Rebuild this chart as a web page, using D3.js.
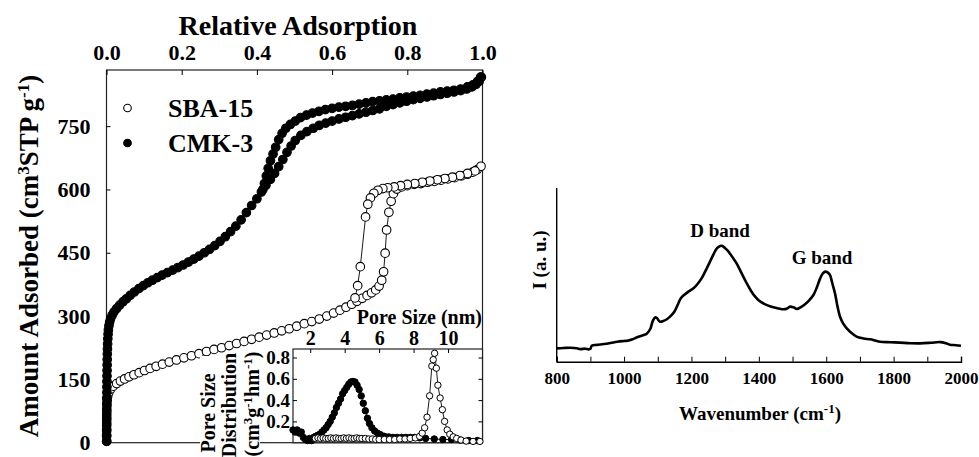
<!DOCTYPE html>
<html>
<head>
<meta charset="utf-8">
<script src="https://cdn.jsdelivr.net/npm/d3@7"></script>
<style>
  body { margin: 0; background: #fff; }
  svg { display: block; }
</style>
</head>
<body>
<script>
// ---- isotherms: [relative pressure, cm3 STP/g] ----
const sbaAds = [[0.0004,4],[0.0004,18],[0.0005,32],[0.0006,46],[0.0007,60],[0.0009,74],[0.0012,88],[0.0018,100],[0.003,110],[0.006,119],[0.011,127],[0.018,134],[0.027,140],[0.037,146],[0.048,151],[0.06,156],[0.073,161],[0.087,166],[0.101,171],[0.116,176],[0.132,181],[0.149,186],[0.167,191],[0.186,196],[0.206,201],[0.226,206],[0.246,211],[0.266,216],[0.286,221],[0.306,225],[0.326,230],[0.346,235],[0.366,240],[0.386,245],[0.406,250],[0.426,255],[0.446,260],[0.466,265],[0.486,270],[0.506,276],[0.526,282],[0.546,287],[0.566,293],[0.586,300],[0.604,307],[0.621,314],[0.637,321],[0.652,328],[0.666,335],[0.68,342],[0.693,349],[0.705,355],[0.716,362],[0.725,371],[0.732,385],[0.737,405],[0.741,449],[0.745,504],[0.751,546],[0.757,572],[0.763,590],[0.772,601],[0.785,606],[0.8,609],[0.818,612],[0.836,614],[0.854,617],[0.872,619],[0.89,622],[0.908,625],[0.926,628],[0.944,632],[0.96,636],[0.974,641],[0.986,647],[0.996,655]];
const sbaDes = [[0.98,644],[0.96,638],[0.94,633],[0.92,629],[0.9,626],[0.88,623],[0.86,620],[0.84,617],[0.82,614],[0.8,612],[0.782,609],[0.765,606],[0.748,604],[0.735,602],[0.722,598],[0.711,591],[0.702,580],[0.695,565],[0.689,535],[0.675,417],[0.668,372],[0.661,343]];
const cmkAds = [[0.0004,3],[0.0004,15],[0.0005,28],[0.0005,41],[0.0006,54],[0.0006,67],[0.0007,80],[0.0008,93],[0.0009,106],[0.001,119],[0.0011,132],[0.0012,145],[0.0013,158],[0.0015,171],[0.0017,184],[0.0019,197],[0.0022,210],[0.0025,222],[0.003,234],[0.0035,246],[0.0042,257],[0.005,267],[0.0065,277],[0.0085,286],[0.011,294],[0.015,302],[0.02,310],[0.027,318],[0.035,326],[0.044,334],[0.053,341],[0.063,349],[0.074,357],[0.086,365],[0.098,372],[0.11,379],[0.122,385],[0.135,391],[0.148,397],[0.162,403],[0.176,409],[0.19,415],[0.204,421],[0.218,428],[0.232,435],[0.246,442],[0.26,450],[0.274,458],[0.288,467],[0.302,477],[0.316,488],[0.33,500],[0.344,513],[0.358,528],[0.372,545],[0.386,562],[0.4,578],[0.412,594],[0.424,610],[0.436,624],[0.447,638],[0.458,654],[0.469,671],[0.48,688],[0.491,703],[0.502,716],[0.517,728],[0.533,737],[0.55,745],[0.566,752],[0.583,757],[0.6,762],[0.618,767],[0.636,771],[0.654,775],[0.672,779],[0.69,783],[0.708,787],[0.726,791],[0.744,797],[0.762,801],[0.78,805],[0.798,809],[0.816,813],[0.834,816],[0.852,819],[0.87,822],[0.888,825],[0.906,828],[0.924,831],[0.942,834],[0.958,838],[0.972,843],[0.983,849],[0.991,856],[0.997,866]];
const cmkDes = [[0.995,866],[0.987,856],[0.975,848],[0.96,843],[0.942,838],[0.924,835],[0.906,833],[0.888,831],[0.87,828],[0.852,826],[0.834,823],[0.816,821],[0.798,819],[0.78,817],[0.762,814],[0.744,812],[0.726,810],[0.708,808],[0.69,805],[0.672,802],[0.654,799],[0.636,797],[0.618,795],[0.6,792],[0.582,789],[0.565,785],[0.548,781],[0.532,776],[0.516,770],[0.502,762],[0.489,754],[0.477,745],[0.467,733],[0.458,718],[0.45,700],[0.443,684],[0.436,668],[0.43,650],[0.425,632],[0.42,614],[0.416,600]];

// ---- pore size distribution inset: [nm, value] ----
const cmkPsd = [[1.0,0.12],[1.12,0.1],[1.24,0.12],[1.36,0.09],[1.48,0.1],[1.6,0.05],[1.72,0.03],[1.84,0.02],[1.96,0.04],[2.08,0.02],[2.2,0.05],[2.32,0.06],[2.44,0.07],[2.56,0.08],[2.68,0.1],[2.8,0.12],[2.92,0.14],[3.04,0.17],[3.16,0.2],[3.28,0.24],[3.4,0.28],[3.52,0.33],[3.64,0.37],[3.76,0.41],[3.88,0.46],[4.0,0.49],[4.12,0.52],[4.24,0.55],[4.36,0.57],[4.48,0.575],[4.6,0.57],[4.72,0.54],[4.84,0.5],[4.96,0.44],[5.08,0.37],[5.2,0.3],[5.32,0.23],[5.44,0.18],[5.58,0.14],[5.74,0.11],[5.9,0.09],[6.08,0.075],[6.3,0.06],[6.55,0.055],[6.8,0.05],[7.05,0.05],[7.3,0.05],[7.55,0.05],[7.8,0.05],[8.05,0.05],[8.35,0.045],[8.7,0.04],[9.2,0.035],[9.7,0.03],[10.2,0.03],[10.7,0.025],[11.2,0.02],[11.7,0.02]];
const sbaPsd = [[2.3,0.04],[2.45,0.045],[2.6,0.04],[2.75,0.045],[2.9,0.04],[3.05,0.04],[3.2,0.045],[3.35,0.04],[3.5,0.045],[3.65,0.04],[3.8,0.04],[3.95,0.045],[4.1,0.04],[4.25,0.045],[4.4,0.04],[4.55,0.04],[4.7,0.045],[4.85,0.04],[5.0,0.04],[5.2,0.04],[5.4,0.035],[5.6,0.035],[5.8,0.03],[6.0,0.03],[6.3,0.03],[6.6,0.03],[6.9,0.03],[7.2,0.035],[7.5,0.035],[7.8,0.04],[8.1,0.045],[8.35,0.06],[8.5,0.09],[8.64,0.14],[8.78,0.24],[8.93,0.44],[9.06,0.72],[9.14,0.78],[9.22,0.84],[9.32,0.7],[9.41,0.54],[9.54,0.42],[9.67,0.31],[9.8,0.2],[9.95,0.12],[10.1,0.08],[10.3,0.055],[10.5,0.04],[10.75,0.025],[11.05,0.015],[11.45,0.012],[11.85,0.012]];

// ---- Raman spectrum: [wavenumber, intensity a.u.] ----
const raman = [[800,9.5],[820,9.8],[840,10],[860,9.6],[870,9],[885,9.3],[895,8.8],[900,9.2],[904,11.4],[920,12],[940,12.6],[960,13.4],[980,14.3],[1000,14.8],[1010,15],[1025,16],[1040,17.6],[1055,18.8],[1068,20.2],[1078,23.5],[1085,29],[1092,31.6],[1098,31],[1106,28.6],[1116,29],[1128,30.5],[1140,33],[1150,36],[1160,41],[1168,45.2],[1180,48],[1192,50.2],[1206,52.4],[1218,55.5],[1230,59.5],[1242,65],[1255,71.4],[1266,77],[1276,81],[1285,82.6],[1292,82.6],[1300,81],[1310,78.6],[1322,74.5],[1334,70.2],[1349,63],[1364,56],[1377,50.5],[1389,46.4],[1401,43.5],[1413,41.7],[1428,40],[1443,38.8],[1458,38],[1473,37.4],[1484,38],[1493,39.3],[1503,38.8],[1513,37.6],[1525,39],[1537,41],[1550,44],[1562,47.6],[1572,53],[1582,59.5],[1590,63],[1597,64.3],[1604,63.8],[1611,61.9],[1618,56],[1626,48.8],[1633,40],[1641,32.1],[1651,27],[1661,23.8],[1675,20.5],[1690,17.9],[1710,16.6],[1730,16],[1745,15.2],[1760,14.3],[1790,13.9],[1819,13.6],[1850,13.2],[1878,13.1],[1910,13.5],[1938,14],[1955,13.2],[1967,12.1],[1985,11.8],[2000,11.4]];

const pTicks = [0, 0.2, 0.4, 0.6, 0.8, 1.0];
const vTicks = [0, 150, 300, 450, 600, 750];
const dTicks = [2, 4, 6, 8, 10];
const fTicks = [0.2, 0.4, 0.6, 0.8];
const wTicks = [800, 1000, 1200, 1400, 1600, 1800, 2000];

const font = "Liberation Serif";
const width = 979, height = 457;
const svg = d3.select("body").append("svg")
    .attr("width", width).attr("height", height)
    .attr("viewBox", [0, 0, width, height])
    .attr("font-family", font)
    .attr("font-weight", "bold");

// axis text: replace d3's sans-serif default with the serif face
const axisText = size => g => g
    .attr("font-family", font)
    .call(g => g.selectAll("text").attr("font-size", size).attr("fill", "#000"));

// ===== isotherm panel =====
const x = d3.scaleLinear().domain([0, 1]).range([106.5, 482.5]);
const y = d3.scaleLinear().domain([0, 883]).range([442.7, 70]);

svg.append("rect")
    .attr("x", x(0)).attr("y", y(883))
    .attr("width", x(1) - x(0)).attr("height", y(0) - y(883))
    .attr("fill", "none").attr("stroke", "#222").attr("stroke-width", 1.2);

svg.append("g")
    .attr("transform", `translate(0,${y(883)})`)
    .call(d3.axisTop(x).tickValues(pTicks).tickSize(-5).tickPadding(10).tickFormat(d3.format(".1f")))
    .call(g => g.select(".domain").remove())
    .call(axisText(22));

svg.append("g")
    .attr("transform", `translate(${x(0)},0)`)
    .call(d3.axisLeft(y).tickValues(vTicks).tickSize(-4).tickPadding(16))
    .call(g => g.select(".domain").remove())
    .call(axisText(22));

svg.append("text")
    .attr("x", 298).attr("y", 35)
    .attr("text-anchor", "middle").attr("font-size", 28)
    .text("Relative Adsorption");

const yt = svg.append("text")
    .attr("transform", "translate(38,256) rotate(-90)")
    .attr("text-anchor", "middle").attr("font-size", 27);
yt.append("tspan").text("Amount Adsorbed (cm");
yt.append("tspan").attr("font-size", 17).attr("baseline-shift", "super").text("3");
yt.append("tspan").text("STP g");
yt.append("tspan").attr("font-size", 17).attr("baseline-shift", "super").text("-1");
yt.append("tspan").text(")");

const line = d3.line().x(d => x(d[0])).y(d => y(d[1]));
const iso = svg.append("g");
[sbaAds, sbaDes, cmkAds, cmkDes].forEach(s => {
  iso.append("path").datum(s).attr("d", line)
      .attr("fill", "none").attr("stroke", "#000").attr("stroke-width", 0.9);
});
[[sbaAds, "#fff"], [sbaDes, "#fff"], [cmkAds, "#000"], [cmkDes, "#000"]].forEach(([s, fill]) => {
  iso.append("g").selectAll("circle").data(s).join("circle")
      .attr("cx", d => x(d[0])).attr("cy", d => y(d[1])).attr("r", 4.3)
      .attr("fill", fill).attr("stroke", "#000").attr("stroke-width", 1.1);
});

// legend
const legend = svg.append("g");
[["SBA-15", "#fff", 108], ["CMK-3", "#000", 143]].forEach(([name, fill, cy]) => {
  legend.append("circle").attr("cx", 127.5).attr("cy", cy).attr("r", 3.8)
      .attr("fill", fill).attr("stroke", "#000").attr("stroke-width", 1.1);
  legend.append("text").attr("x", 168).attr("y", cy + 9).attr("font-size", 26).text(name);
});

// ===== pore size inset =====
const xi = d3.scaleLinear().domain([1, 12]).range([293, 482.5]);
const yi = d3.scaleLinear().domain([0, 0.88]).range([442.7, 349]);

svg.append("rect")
    .attr("x", 200).attr("y", 356).attr("width", 60).attr("height", 101).attr("fill", "#fff");
svg.append("rect")
    .attr("x", xi(1)).attr("y", yi(0.88))
    .attr("width", xi(12) - xi(1)).attr("height", yi(0) - yi(0.88))
    .attr("fill", "#fff").attr("stroke", "#222").attr("stroke-width", 1.2);

svg.append("g")
    .attr("transform", `translate(0,${yi(0.88)})`)
    .call(d3.axisTop(xi).tickValues(dTicks).tickSize(-4).tickPadding(4.5))
    .call(g => g.select(".domain").remove())
    .call(axisText(20));

svg.append("g")
    .attr("transform", `translate(${xi(1)},0)`)
    .call(d3.axisLeft(yi).tickValues(fTicks).tickSize(-4).tickPadding(3).tickFormat(d3.format(".1f")))
    .call(g => g.select(".domain").remove())
    .call(axisText(19));

svg.append("g")
    .attr("transform", `translate(${xi(12)},0)`)
    .call(d3.axisRight(yi).tickValues(fTicks).tickSize(-4).tickFormat(""))
    .call(g => g.select(".domain").remove());

svg.append("text")
    .attr("x", 482).attr("y", 324)
    .attr("text-anchor", "end").attr("font-size", 20)
    .text("Pore Size (nm)");

const il = svg.append("g").attr("font-size", 20).attr("text-anchor", "middle");
il.append("text").attr("transform", "translate(215,413) rotate(-90)").text("Pore Size");
il.append("text").attr("transform", "translate(236,405) rotate(-90)").text("Distribution");
const il3 = il.append("text").attr("transform", "translate(259,404) rotate(-90)");
il3.append("tspan").text("(cm");
il3.append("tspan").attr("font-size", 13).attr("baseline-shift", "super").text("3");
il3.append("tspan").text("g");
il3.append("tspan").attr("font-size", 13).attr("baseline-shift", "super").text("-1");
il3.append("tspan").text("hm");
il3.append("tspan").attr("font-size", 13).attr("baseline-shift", "super").text("-1");
il3.append("tspan").text(")");

const lineI = d3.line().x(d => xi(d[0])).y(d => yi(d[1]));
const ins = svg.append("g");
[cmkPsd, sbaPsd].forEach(s => {
  ins.append("path").datum(s).attr("d", lineI)
      .attr("fill", "none").attr("stroke", "#000").attr("stroke-width", 0.9);
});
[[cmkPsd, "#000"], [sbaPsd, "#fff"]].forEach(([s, fill]) => {
  ins.append("g").selectAll("circle").data(s).join("circle")
      .attr("cx", d => xi(d[0])).attr("cy", d => yi(d[1])).attr("r", 3.2)
      .attr("fill", fill).attr("stroke", "#000").attr("stroke-width", 1);
});

// ===== Raman panel =====
const xr = d3.scaleLinear().domain([800, 2000]).range([556.7, 961]);
const yr = d3.scaleLinear().domain([0, 124]).range([361.7, 188]);

svg.append("g")
    .attr("transform", `translate(0,${yr(0)})`)
    .call(d3.axisBottom(xr).tickValues(d3.range(800, 2001, 100)).tickSize(-5).tickPadding(10)
        .tickFormat(d => wTicks.includes(d) ? d : ""))
    .call(g => g.select(".domain").attr("stroke-width", 1.4))
    .call(axisText(17));

svg.append("line")
    .attr("x1", xr(800)).attr("x2", xr(800)).attr("y1", yr(0)).attr("y2", yr(124))
    .attr("stroke", "#000").attr("stroke-width", 1.4);

svg.append("path").datum(raman)
    .attr("d", d3.line().curve(d3.curveCatmullRom).x(d => xr(d[0])).y(d => yr(d[1])))
    .attr("fill", "none").attr("stroke", "#000").attr("stroke-width", 2.6);

svg.append("text").attr("x", 720).attr("y", 237).attr("text-anchor", "middle").attr("font-size", 19).text("D band");
svg.append("text").attr("x", 822).attr("y", 264).attr("text-anchor", "middle").attr("font-size", 19).text("G band");

svg.append("text")
    .attr("transform", "translate(546,260) rotate(-90)")
    .attr("text-anchor", "middle").attr("font-size", 19)
    .text("I (a. u.)");

const xrt = svg.append("text")
    .attr("x", 760).attr("y", 420).attr("text-anchor", "middle").attr("font-size", 19);
xrt.append("tspan").text("Wavenumber (cm");
xrt.append("tspan").attr("font-size", 13).attr("baseline-shift", "super").text("-1");
xrt.append("tspan").text(")");
</script>
</body>
</html>
